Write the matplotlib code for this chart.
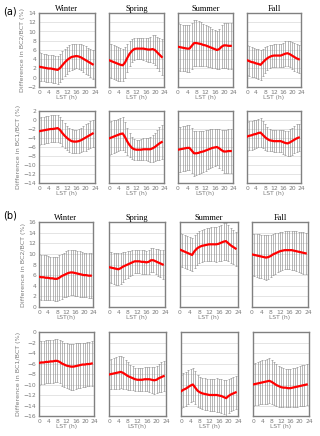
import matplotlib
matplotlib.use("Agg")
import matplotlib.pyplot as plt
import numpy as np

W, H = 320, 436

hours = list(range(24))
seasons = ["Winter", "Spring", "Summer", "Fall"]

# (a) BC2/BCT
a_bc2_mean = {
    "Winter": [2.4, 2.3, 2.2, 2.1, 2.0, 2.0, 1.9, 1.8, 1.7, 2.1, 2.7, 3.3, 3.8, 4.2, 4.5, 4.6, 4.7, 4.6, 4.4, 4.1, 3.8, 3.5, 3.2, 2.9],
    "Spring": [3.8, 3.6, 3.4, 3.2, 3.0, 2.8, 2.7, 3.3, 4.3, 5.2, 5.8, 6.2, 6.3, 6.3, 6.3, 6.3, 6.2, 6.1, 6.1, 6.2, 6.0, 5.5, 5.0, 4.5],
    "Summer": [6.7, 6.6, 6.5, 6.4, 6.3, 6.3, 6.9, 7.5, 7.5, 7.4, 7.3, 7.1, 7.0, 6.8, 6.6, 6.4, 6.2, 6.0, 6.2, 6.7, 7.0, 7.0, 6.9, 6.9],
    "Fall":   [3.8, 3.6, 3.4, 3.3, 3.1, 3.0, 2.8, 3.3, 3.8, 4.2, 4.5, 4.7, 4.8, 4.8, 4.8, 4.8, 5.0, 5.2, 5.3, 5.1, 4.8, 4.5, 4.2, 4.0],
}
a_bc2_err = {
    "Winter": [3.1, 3.1, 3.0, 3.0, 3.0, 3.0, 3.0, 3.0, 3.0, 3.0, 3.0, 2.9, 2.9, 2.8, 2.8, 2.7, 2.7, 2.8, 2.8, 2.9, 3.0, 3.0, 3.0, 3.1],
    "Spring": [3.6, 3.6, 3.6, 3.6, 3.6, 3.6, 3.5, 3.3, 3.0, 2.7, 2.5, 2.4, 2.3, 2.3, 2.3, 2.4, 2.5, 2.6, 2.8, 3.0, 3.2, 3.4, 3.6, 3.8],
    "Summer": [5.1, 5.1, 5.0, 5.0, 5.0, 5.0, 5.0, 4.9, 4.9, 4.8, 4.7, 4.6, 4.5, 4.4, 4.3, 4.2, 4.2, 4.2, 4.4, 4.6, 4.8, 4.9, 5.0, 5.0],
    "Fall":   [3.2, 3.2, 3.2, 3.2, 3.2, 3.2, 3.2, 3.0, 2.8, 2.6, 2.5, 2.4, 2.4, 2.4, 2.4, 2.5, 2.6, 2.7, 2.7, 2.8, 2.9, 3.0, 3.0, 3.0],
}

# (a) BC1/BCT
a_bc1_mean = {
    "Winter": [-2.5, -2.4, -2.3, -2.2, -2.1, -2.0, -2.0, -1.9, -1.8, -2.2, -2.9, -3.5, -4.0, -4.4, -4.7, -4.8, -4.8, -4.7, -4.5, -4.2, -3.9, -3.6, -3.3, -3.0],
    "Spring": [-4.1, -3.9, -3.7, -3.5, -3.3, -3.1, -3.0, -3.8, -4.8, -5.6, -6.2, -6.5, -6.6, -6.6, -6.6, -6.5, -6.5, -6.5, -6.5, -6.3, -6.0, -5.6, -5.2, -4.9],
    "Summer": [-6.6, -6.5, -6.4, -6.3, -6.2, -6.2, -6.8, -7.4, -7.4, -7.3, -7.1, -7.0, -6.8, -6.6, -6.4, -6.2, -6.1, -6.0, -6.3, -6.7, -7.0, -7.0, -6.9, -6.9],
    "Fall":   [-3.7, -3.5, -3.4, -3.2, -3.1, -2.9, -2.8, -3.3, -3.8, -4.2, -4.5, -4.6, -4.7, -4.7, -4.7, -4.7, -4.9, -5.1, -5.2, -5.0, -4.7, -4.4, -4.1, -3.9],
}
a_bc1_err = {
    "Winter": [3.0, 3.0, 3.0, 3.0, 3.0, 3.0, 3.0, 3.0, 3.0, 2.9, 2.9, 2.8, 2.7, 2.7, 2.6, 2.6, 2.6, 2.7, 2.7, 2.8, 2.9, 2.9, 3.0, 3.0],
    "Spring": [3.6, 3.6, 3.6, 3.6, 3.6, 3.6, 3.6, 3.3, 3.0, 2.7, 2.4, 2.3, 2.2, 2.2, 2.3, 2.4, 2.5, 2.6, 2.8, 3.0, 3.2, 3.4, 3.6, 3.7],
    "Summer": [5.0, 5.0, 5.0, 5.0, 5.0, 5.0, 5.0, 5.0, 4.9, 4.8, 4.7, 4.6, 4.5, 4.4, 4.3, 4.2, 4.1, 4.1, 4.3, 4.5, 4.7, 4.8, 4.9, 4.9],
    "Fall":   [3.2, 3.2, 3.2, 3.2, 3.2, 3.2, 3.2, 3.0, 2.8, 2.6, 2.5, 2.4, 2.4, 2.4, 2.4, 2.5, 2.6, 2.7, 2.8, 2.9, 3.0, 3.0, 3.1, 3.1],
}

# (b) BC2/BCT
b_bc2_mean = {
    "Winter": [5.7, 5.6, 5.6, 5.5, 5.5, 5.4, 5.4, 5.3, 5.3, 5.5, 5.8, 6.0, 6.2, 6.4, 6.5, 6.5, 6.4, 6.3, 6.2, 6.1, 6.0, 6.0, 5.9, 5.9],
    "Spring": [7.5, 7.4, 7.3, 7.2, 7.1, 7.3, 7.6, 7.8, 8.0, 8.2, 8.4, 8.6, 8.6, 8.6, 8.5, 8.5, 8.4, 8.5, 8.8, 8.8, 8.6, 8.4, 8.2, 8.0],
    "Summer": [10.8, 10.6, 10.4, 10.2, 10.0, 9.8, 10.5, 11.0, 11.3, 11.5, 11.6, 11.7, 11.8, 11.8, 11.8, 11.8, 11.9, 12.1, 12.3, 12.4, 12.0, 11.6, 11.3, 11.0],
    "Fall":   [9.9, 9.8, 9.7, 9.6, 9.5, 9.4, 9.3, 9.4, 9.6, 9.9, 10.1, 10.3, 10.5, 10.6, 10.7, 10.7, 10.7, 10.7, 10.6, 10.5, 10.4, 10.3, 10.2, 10.1],
}
b_bc2_err = {
    "Winter": [4.2, 4.2, 4.2, 4.2, 4.1, 4.1, 4.1, 4.1, 4.1, 4.2, 4.2, 4.2, 4.3, 4.3, 4.3, 4.3, 4.3, 4.3, 4.3, 4.2, 4.2, 4.2, 4.2, 4.2],
    "Spring": [2.8, 2.9, 2.9, 3.0, 3.0, 2.9, 2.8, 2.6, 2.5, 2.4, 2.3, 2.2, 2.2, 2.2, 2.2, 2.2, 2.2, 2.2, 2.3, 2.3, 2.4, 2.5, 2.6, 2.7],
    "Summer": [3.1, 3.1, 3.1, 3.1, 3.1, 3.1, 3.1, 3.0, 3.0, 3.0, 3.0, 3.1, 3.1, 3.2, 3.2, 3.3, 3.3, 3.4, 3.5, 3.5, 3.4, 3.3, 3.2, 3.2],
    "Fall":   [3.9, 4.0, 4.0, 4.1, 4.1, 4.2, 4.2, 4.1, 4.0, 3.9, 3.8, 3.7, 3.7, 3.6, 3.6, 3.6, 3.6, 3.7, 3.7, 3.8, 3.8, 3.9, 3.9, 3.9],
}

# (b) BC1/BCT
b_bc1_mean = {
    "Winter": [-5.9, -5.8, -5.8, -5.7, -5.7, -5.6, -5.6, -5.5, -5.5, -5.7, -6.0, -6.2, -6.4, -6.5, -6.6, -6.6, -6.5, -6.4, -6.3, -6.2, -6.2, -6.1, -6.1, -6.0],
    "Spring": [-8.1, -8.0, -7.9, -7.8, -7.7, -7.6, -7.8, -8.1, -8.4, -8.6, -8.8, -9.0, -9.1, -9.1, -9.1, -9.0, -9.0, -9.0, -9.1, -9.2, -9.1, -8.8, -8.6, -8.4],
    "Summer": [-11.3, -11.0, -10.8, -10.5, -10.2, -10.0, -10.6, -11.2, -11.5, -11.7, -11.8, -11.9, -12.0, -12.0, -12.0, -12.0, -12.1, -12.2, -12.4, -12.6, -12.2, -11.9, -11.7, -11.5],
    "Fall":   [-10.0, -9.9, -9.8, -9.7, -9.6, -9.5, -9.4, -9.3, -9.5, -9.8, -10.1, -10.3, -10.5, -10.6, -10.6, -10.7, -10.7, -10.6, -10.5, -10.4, -10.3, -10.2, -10.1, -10.0],
}
b_bc1_err = {
    "Winter": [4.1, 4.1, 4.1, 4.1, 4.1, 4.1, 4.1, 4.1, 4.1, 4.1, 4.2, 4.2, 4.3, 4.3, 4.4, 4.4, 4.4, 4.3, 4.3, 4.2, 4.2, 4.2, 4.2, 4.2],
    "Spring": [2.8, 2.9, 3.0, 3.0, 3.1, 3.1, 3.0, 2.8, 2.6, 2.4, 2.3, 2.2, 2.2, 2.2, 2.2, 2.3, 2.3, 2.4, 2.5, 2.6, 2.6, 2.7, 2.8, 2.9],
    "Summer": [3.2, 3.2, 3.2, 3.2, 3.2, 3.2, 3.1, 3.0, 3.0, 3.0, 3.0, 3.0, 3.0, 3.1, 3.1, 3.2, 3.2, 3.3, 3.3, 3.4, 3.3, 3.2, 3.1, 3.1],
    "Fall":   [4.0, 4.0, 4.1, 4.1, 4.2, 4.2, 4.3, 4.3, 4.2, 4.1, 4.0, 3.9, 3.8, 3.7, 3.6, 3.6, 3.6, 3.7, 3.7, 3.8, 3.8, 3.9, 3.9, 3.9],
}

xlabels = [
    ["LST (h)", "LST (h)", "LST (h)", "LST (h)"],
    ["LST (h)", "LST (h)", "LST(h)", "LST (h)"],
    ["LST(h)", "LST (h)", "LST (h)", "LST (h)"],
    ["LST (h)", "LST(h)", "LST (h)", "LST (h)"],
]

rows = [
    (a_bc2_mean, a_bc2_err, (-2, 14), "Difference in BC2/BCT (%)"),
    (a_bc1_mean, a_bc1_err, (-14, 2), "Difference in BC1/BCT (%)"),
    (b_bc2_mean, b_bc2_err, (0, 16), "Difference in BC2/BCT (%)"),
    (b_bc1_mean, b_bc1_err, (-16, 0), "Difference in BC1/BCT (%)"),
]

# pixel boxes (top, bottom) for each row and (left, right) for each column
row_tb = [(13, 87), (111, 183), (222, 307), (332, 416)]
col_lr = [
    [(39, 95), (109, 164), (178, 233), (247, 301)],
    [(39, 95), (109, 164), (178, 233), (247, 301)],
    [(39, 93), (109, 165), (180, 238), (252, 308)],
    [(39, 94), (109, 166), (181, 238), (253, 309)],
]

gray = "#808080"
tick_gray = "#7a7a7a"

fig = plt.figure(figsize=(W / 100, H / 100), dpi=100)

for r, (means, errs, ylim, ylab) in enumerate(rows):
    top, bot = row_tb[r]
    for c, season in enumerate(seasons):
        left, right = col_lr[r][c]
        ax = fig.add_axes([left / W, 1 - bot / H, (right - left) / W, (bot - top) / H])
        ax.errorbar(hours, means[season], yerr=errs[season], fmt="none",
                    ecolor="#8c8c8c", elinewidth=0.45, capsize=1.0, capthick=0.45, zorder=2)
        ax.plot(hours, means[season], color="#ff0000", lw=1.6, zorder=3)
        ax.set_xlim(0, 24)
        ax.set_ylim(*ylim)
        ax.set_xticks(range(0, 25, 4))
        ax.set_yticks(range(ylim[0], ylim[1] + 1, 2))
        ax.grid(axis="y", color="#d9d9d9", lw=0.5, zorder=0)
        ax.tick_params(length=0, labelsize=4.3, colors=tick_gray, pad=2)
        for sp in ax.spines.values():
            sp.set_color(gray)
            sp.set_linewidth(1.0)
        if c > 0:
            ax.set_yticklabels([])
        else:
            ax.set_ylabel(ylab, fontsize=4.6, color=tick_gray, labelpad=1.5)
        ax.set_xlabel(xlabels[r][c], fontsize=4.3, color=tick_gray, labelpad=0.5)
        if r in (0, 2):
            ax.set_title(season, fontsize=6, family="Liberation Serif", pad=1.5)

fig.text(3 / W, 1 - 12 / H, "(a)", fontsize=7, va="center", ha="left")
fig.text(3 / W, 1 - 215 / H, "(b)", fontsize=7, va="center", ha="left")

fig.savefig("out.png", dpi=100)
